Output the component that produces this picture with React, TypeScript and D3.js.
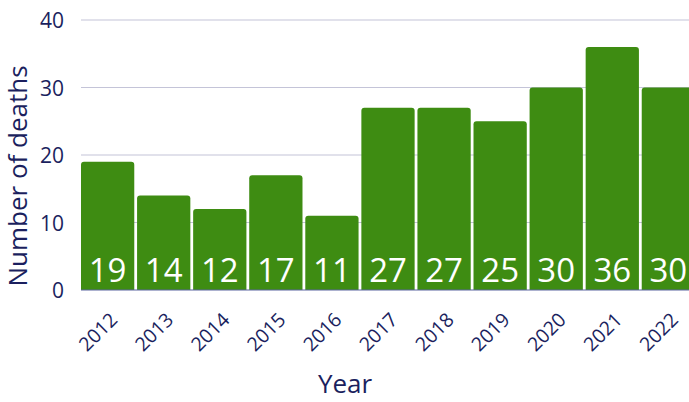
import React, { useEffect, useRef } from 'react';
import * as d3 from 'd3';

const years = ['2012', '2013', '2014', '2015', '2016', '2017', '2018', '2019', '2020', '2021', '2022'];
const deaths = [19, 14, 12, 17, 11, 27, 27, 25, 30, 36, 30];
const yTicks = [0, 10, 20, 30, 40];

const W = 689;
const H = 402;
const margin = { left: 81, top: 20, right: -6, bottom: 112 };
const navy = '#1b1f5e';
const font = '"Open Sans", sans-serif';

const App = () => {
    const ref = useRef<SVGSVGElement>(null);

    useEffect(() => {
        if (!ref.current) return;
        const svg = d3.select(ref.current);
        svg.selectAll('*').remove();

        const x = d3.scaleBand()
            .domain(years)
            .range([margin.left, W - margin.right])
            .paddingInner(0.05)
            .paddingOuter(0);

        const y = d3.scaleLinear()
            .domain([0, 40])
            .range([H - margin.bottom, margin.top]);

        // gridlines
        svg.append('g')
            .selectAll('line')
            .data(yTicks.slice(1))
            .join('line')
            .attr('x1', margin.left)
            .attr('x2', W)
            .attr('y1', d => y(d))
            .attr('y2', d => y(d))
            .attr('stroke', '#c4c4d8')
            .attr('stroke-width', 1.2);

        // bars with rounded tops
        const r = 3;
        svg.append('g')
            .selectAll('path')
            .data(deaths)
            .join('path')
            .attr('fill', '#3e8c12')
            .attr('d', (d, i) => {
                const x0 = x(years[i])!;
                const x1 = x0 + x.bandwidth();
                const y0 = y(0);
                const y1 = y(d);
                return `M${x0},${y0}V${y1 + r}Q${x0},${y1} ${x0 + r},${y1}H${x1 - r}Q${x1},${y1} ${x1},${y1 + r}V${y0}Z`;
            });

        // value labels
        svg.append('g')
            .selectAll('text')
            .data(deaths)
            .join('text')
            .attr('x', (d, i) => x(years[i])! + x.bandwidth() / 2)
            .attr('y', y(0) - 8)
            .attr('text-anchor', 'middle')
            .attr('fill', 'white')
            .style('font-family', font)
            .style('font-size', '33px')
            .text(d => d);

        // baseline
        svg.append('line')
            .attr('x1', margin.left)
            .attr('x2', W)
            .attr('y1', y(0))
            .attr('y2', y(0))
            .attr('stroke', '#5a64a0')
            .attr('stroke-width', 1.2);

        // y tick labels
        svg.append('g')
            .selectAll('text')
            .data(yTicks)
            .join('text')
            .attr('x', 64)
            .attr('y', d => y(d) + 8)
            .attr('text-anchor', 'end')
            .attr('fill', navy)
            .style('font-family', font)
            .style('font-size', '21px')
            .text(d => d);

        // x tick labels
        svg.append('g')
            .selectAll('text')
            .data(years)
            .join('text')
            .attr('transform', d => `translate(${x(d)! + x.bandwidth() / 2 + 11},${y(0) + 31}) rotate(-45)`)
            .attr('text-anchor', 'end')
            .attr('fill', navy)
            .style('font-family', font)
            .style('font-size', '19.5px')
            .text(d => d);

        // axis titles
        svg.append('text')
            .attr('x', 345)
            .attr('y', 393)
            .attr('text-anchor', 'middle')
            .attr('fill', navy)
            .style('font-family', font)
            .style('font-size', '26px')
            .text('Year');

        svg.append('text')
            .attr('transform', `translate(27,176) rotate(-90)`)
            .attr('text-anchor', 'middle')
            .attr('fill', navy)
            .style('font-family', font)
            .style('font-size', '26px')
            .text('Number of deaths');
    }, []);

    return (
        <svg ref={ref} width={W} height={H}
            style={{ position: 'absolute', left: 0, top: 0, display: 'block' }} />
    );
};

export default App;
